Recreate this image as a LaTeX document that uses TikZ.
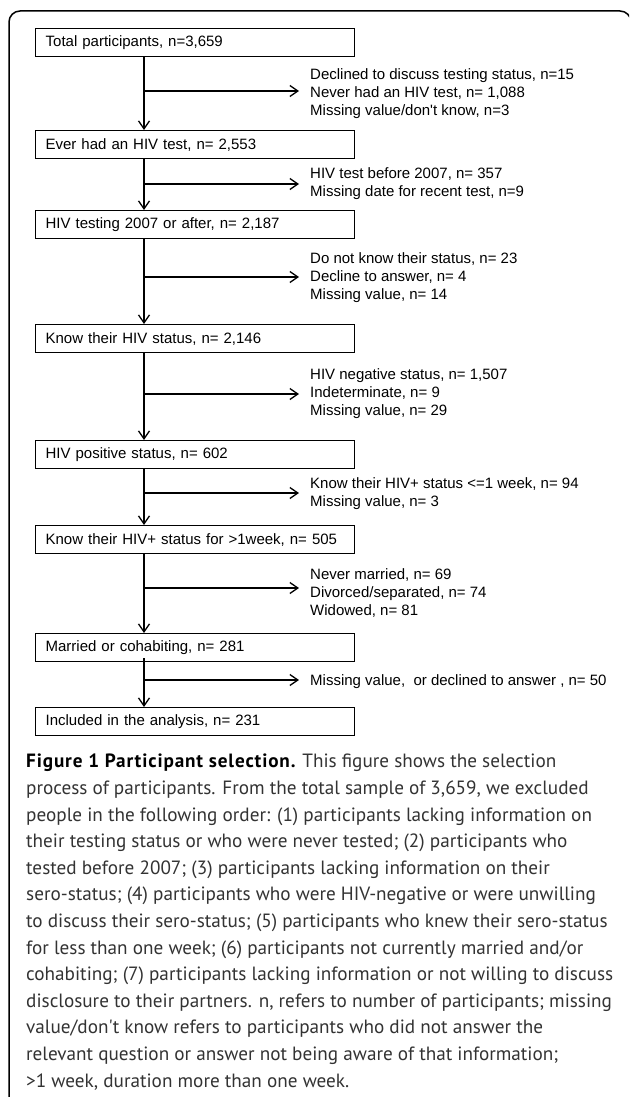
\documentclass[tikz,border=0pt]{standalone}
\usepackage{fontspec}
\setmainfont{Liberation Sans}
\newfontfamily\capfont{PT Sans}
\newfontfamily\capbold{PT Sans Bold}[LetterSpace=4.5]
\usetikzlibrary{arrows.meta,calc}
\definecolor{captext}{HTML}{333333}
\begin{document}
\begin{tikzpicture}[x=1pt,y=-1pt,
  box/.style={draw, line width=1.3pt, anchor=north west, text width=299pt, inner xsep=10pt, inner ysep=0pt, minimum height=28pt, align=left, font=\fontsize{15}{18}\selectfont},
  exc/.style={anchor=west, align=left, inner xsep=11pt, inner ysep=0pt, font=\fontsize{15}{18}\selectfont},
  arr/.style={line width=1.3pt, -{Straight Barb[length=8pt,width=11pt]}},
  trunk/.style={line width=1.3pt, -{Straight Barb[length=8pt,width=11pt]}},
  frame/.style={draw, line width=1.5pt, rounded corners=11pt}]
\useasboundingbox (0,0) rectangle (629,1097);
\clip (0,0) rectangle (629,1097);
\fill[white] (0,0) rectangle (629,1097);
\draw[frame] (9,11) rectangle (631,1130);

\node[box] (b1) at (35,28)  {Total participants, n=3,659};
\node[box] (b2) at (35,130) {Ever had an HIV test, n= 2,553};
\node[box] (b3) at (35,210) {HIV testing 2007 or after, n= 2,187};
\node[box] (b4) at (35,324) {Know their HIV status, n= 2,146};
\node[box] (b5) at (35,440) {HIV positive status, n= 602};
\node[box] (b6) at (35,525) {Know their HIV+ status for >1week, n= 505};
\node[box] (b7) at (35,633) {Married or cohabiting, n= 281};
\node[box] (b8) at (35,707) {Included in the analysis, n= 231};

\node[exc] (t1) at (299,94)  {Declined to discuss testing status, n=15\\Never had an HIV test, n= 1,088\\Missing value/don\textquotesingle t know, n=3};
\node[exc] (t2) at (299,184) {HIV test before 2007, n= 357\\Missing date for recent test, n=9};
\node[exc] (t3) at (299,278) {Do not know their status, n= 23\\Decline to answer, n= 4\\Missing value, n= 14};
\node[exc] (t4) at (299,394) {HIV negative status, n= 1,507\\Indeterminate, n= 9\\Missing value, n= 29};
\node[exc] (t5) at (299,494) {Know their HIV+ status <=1 week, n= 94\\Missing value, n= 3};
\node[exc] (t6) at (299,593) {Never married, n= 69\\Divorced/separated, n= 74\\Widowed, n= 81};
\node[exc] (t7) at (299,682) {Missing value,\ \ or declined to answer , n= 50};

\coordinate (v1) at (144,91);
\coordinate (v2) at (144,184);
\coordinate (v3) at (144,277);
\coordinate (v4) at (144,394);
\coordinate (v5) at (144,493);
\coordinate (v6) at (144,588);
\coordinate (v7) at (144,680);

\draw[trunk] (b1.south -| v1) -- (b2.north -| v1);
\draw[trunk] (b2.south -| v2) -- (b3.north -| v2);
\draw[trunk] (b3.south -| v3) -- (b4.north -| v3);
\draw[trunk] (b4.south -| v4) -- (b5.north -| v4);
\draw[trunk] (b5.south -| v5) -- (b6.north -| v5);
\draw[trunk] (b6.south -| v6) -- (b7.north -| v6);
\draw[trunk] ($(b7.south -| v7)+(0,-4)$) -- (b8.north -| v7);

\draw[arr] (v1) -- (v1 -| t1.west);
\draw[arr] (v2) -- (v2 -| t2.west);
\draw[arr] (v3) -- (v3 -| t3.west);
\draw[arr] (v4) -- (v4 -| t4.west);
\draw[arr] (v5) -- (v5 -| t5.west);
\draw[arr] (v6) -- (v6 -| t6.west);
\draw[arr] (v7) -- (v7 -| t7.west);

\node[anchor=north west, inner sep=0pt, align=left, text=captext, font=\capfont\fontsize{19.2}{26.6}\selectfont] (cap) at (26,754)
{{\color{black}\capbold Figure 1 Participant selection.} This figure shows the selection\\
process of participants. From the total sample of 3,659, we excluded\\
people in the following order: (1) participants lacking information on\\
their testing status or who were never tested; (2) participants who\\
tested before 2007; (3) participants lacking information on their\\
sero-status; (4) participants who were HIV-negative or were unwilling\\
to discuss their sero-status; (5) participants who knew their sero-status\\
for less than one week; (6) participants not currently married and/or\\
cohabiting; (7) participants lacking information or not willing to discuss\\
disclosure to their partners. n, refers to number of participants; missing\\
value/don\textquotesingle t know refers to participants who did not answer the\\
relevant question or answer not being aware of that information;\\
>1 week, duration more than one week.};
\end{tikzpicture}
\end{document}
